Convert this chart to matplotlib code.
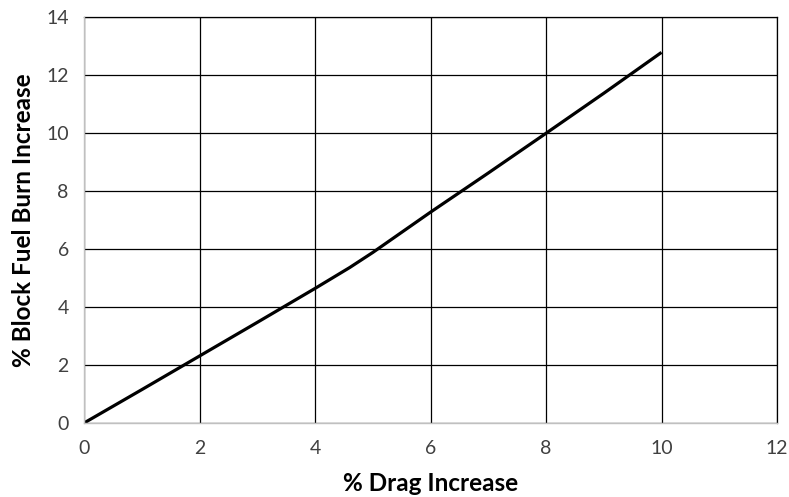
import matplotlib.pyplot as plt

# % drag increase vs % block fuel burn increase
drag_pct = [0, 1, 2, 3, 4, 4.6, 5, 6, 7, 8, 9, 10]
fuel_pct = [0, 1.15, 2.31, 3.47, 4.64, 5.36, 5.88, 7.27, 8.62, 9.99, 11.37, 12.78]

x_ticks = [0, 2, 4, 6, 8, 10, 12]
y_ticks = [0, 2, 4, 6, 8, 10, 12, 14]


def main():
    plt.rcParams['font.family'] = ['Lato', 'DejaVu Sans']

    fig = plt.figure(figsize=(7.89, 4.97), dpi=100)
    ax = fig.add_axes([0.1065, 0.1489, 0.8783, 0.8169])

    ax.plot(drag_pct, fuel_pct, color="black", linewidth=2.3, solid_capstyle="butt", zorder=3)

    ax.set_xlim(0, 12)
    ax.set_ylim(0, 14)
    ax.set_xticks(x_ticks)
    ax.set_yticks(y_ticks)
    ax.grid(True, color="black", linewidth=0.9)

    for side in ["top", "right"]:
        ax.spines[side].set_color("black")
        ax.spines[side].set_linewidth(0.9)
    for side in ["left", "bottom"]:
        ax.spines[side].set_color("#c0c0c0")
        ax.spines[side].set_linewidth(1.0)
        ax.spines[side].set_zorder(4)

    ax.tick_params(axis="both", length=0, labelsize=14, labelcolor="#404040")
    ax.tick_params(axis="x", pad=12)
    ax.tick_params(axis="y", pad=11)

    ax.set_xlabel("% Drag Increase", fontsize=17.5, fontweight="bold", labelpad=11)
    ax.set_ylabel("% Block Fuel Burn Increase", fontsize=17.5, fontweight="bold", labelpad=8)

    fig.savefig("out.png", dpi=100)


if __name__ == "__main__":
    main()
